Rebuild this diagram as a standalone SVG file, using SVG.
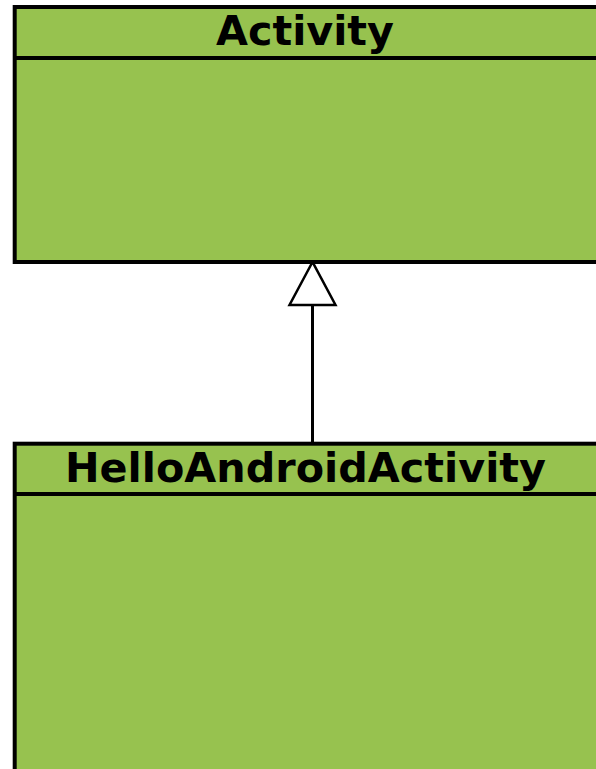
<svg xmlns="http://www.w3.org/2000/svg" width="596" height="769" viewBox="0 0 596 769">
  <style>
    .cls { fill: #97c24f; stroke: #000; stroke-width: 4; }
    .div { stroke: #000; stroke-width: 4; fill: none; }
    .title { font-family: "DejaVu Sans", "Liberation Sans", sans-serif; font-weight: bold; font-size: 41px; fill: #000; }
    .edge { stroke: #000; stroke-width: 3; fill: none; }
    .head { stroke: #000; stroke-width: 2.5; fill: #fff; stroke-linejoin: miter; }
  </style>
  <rect width="596" height="769" fill="#fff"/>

  <!-- generalization connector -->
  <g id="connectors">
    <line class="edge" x1="312.5" y1="305" x2="312.5" y2="443"/>
    <polygon class="head" points="312.5,262 289.5,305 335.5,305"/>
  </g>

  <!-- superclass -->
  <g id="activity">
    <rect class="cls" x="14.7" y="7" width="620" height="255"/>
    <line class="div" x1="14.7" y1="58" x2="620" y2="58"/>
    <text class="title" x="216" y="45" textLength="178" lengthAdjust="spacingAndGlyphs">Activity</text>
  </g>

  <!-- subclass -->
  <g id="hello-android-activity">
    <rect class="cls" x="14.7" y="443.7" width="620" height="340"/>
    <line class="div" x1="14.7" y1="494" x2="620" y2="494"/>
    <text class="title" x="65" y="482" textLength="481" lengthAdjust="spacingAndGlyphs">HelloAndroidActivity</text>
  </g>
</svg>
